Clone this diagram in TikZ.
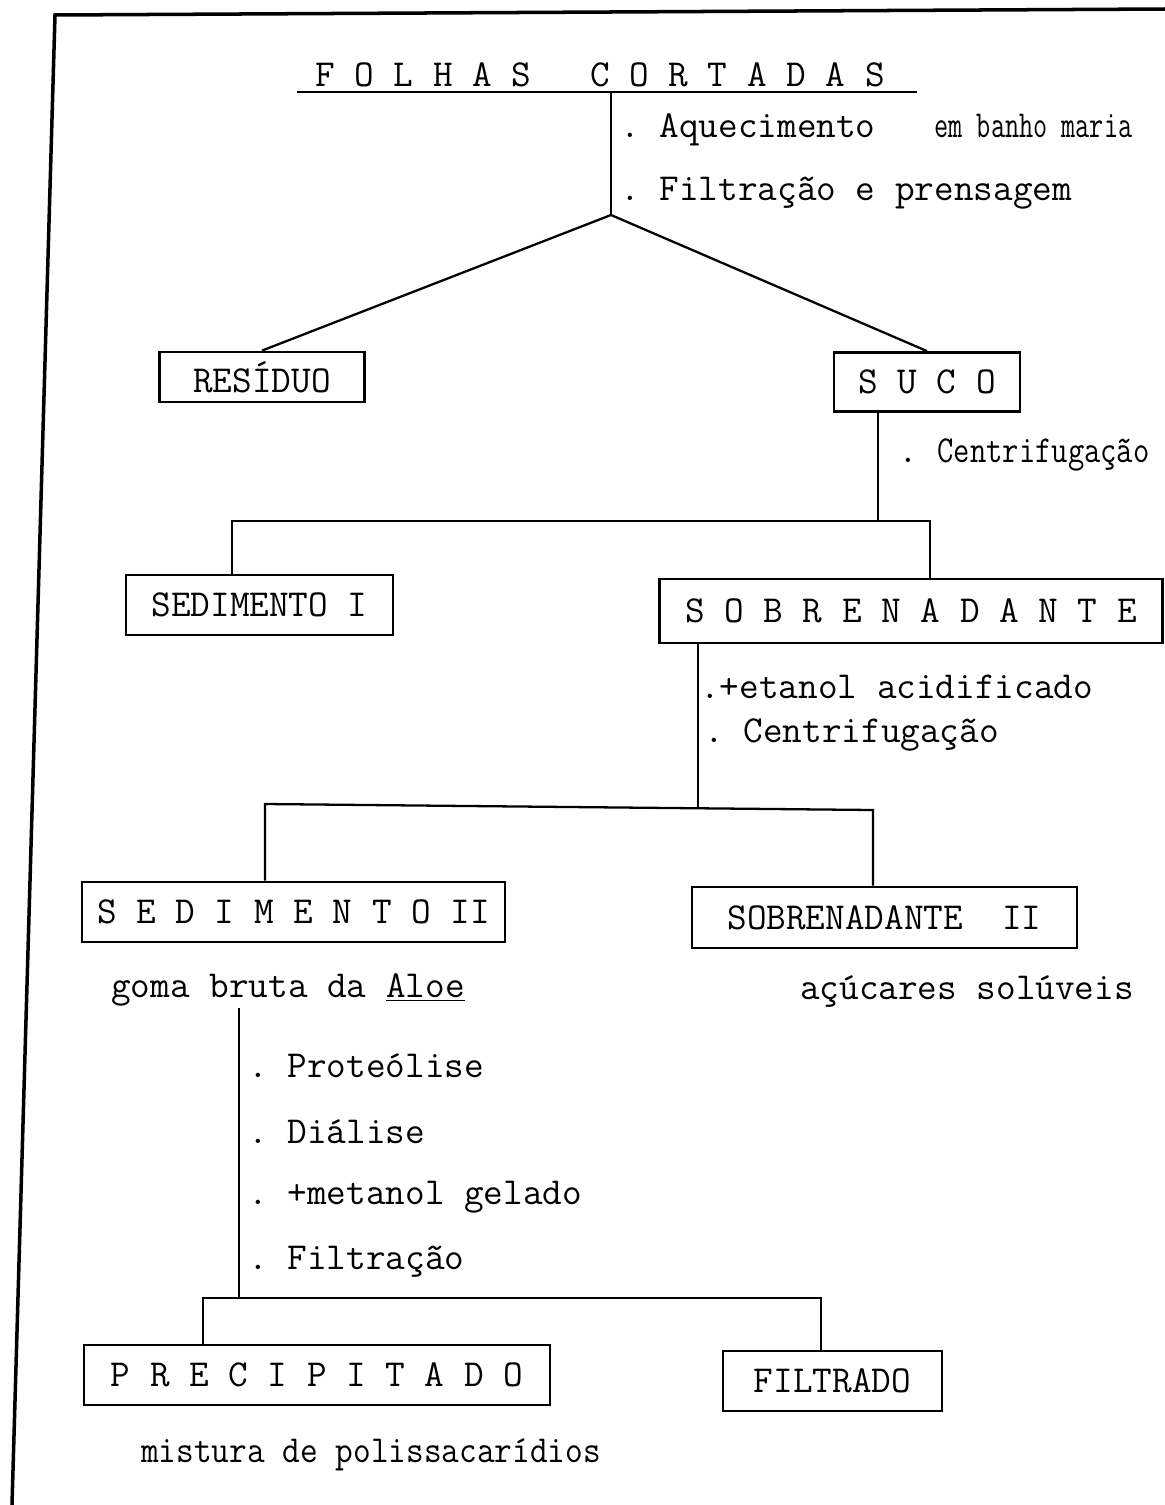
\documentclass[tikz,border=0pt]{standalone}
\usepackage{fontspec}
\usepackage{graphicx}
\usepackage{tikz}
\usetikzlibrary{arrows,positioning}
\newcommand{\maquina}{\ttfamily\fontsize{21.7}{25}\selectfont}
\tikzset{
    %Define standard line style
    linha/.style={
           draw=black,
           line width=1.3pt},
    %Define style for boxes
    caixa/.style={
           rectangle,
           draw=black, line width=1.6pt,
           minimum height=1.2cm,
           inner sep=0pt,
           font=\maquina,
           text centered},
    %Define style for the steps
    passo/.style={
           anchor=west,
           inner sep=0pt,
           font=\maquina},
    texto/.style={
           inner sep=0pt,
           font=\maquina,
           text centered}
}

\begin{document}
\begin{tikzpicture}[x=0.02cm,y=-0.02cm]
\useasboundingbox (0,0) rectangle (1165,1505);
% frame
\draw[line width=2pt] (12,1505) -- (55,15) -- (1165,9);
% title
\node[texto](folhas) at (600,75){F O L H A S~~~C O R T A D A S};
\coordinate (ul1) at (297,92);
\coordinate (ul2) at (917,92);
\draw[linha] (ul1) -- (ul2);
\coordinate (t0) at (611,92);
\coordinate (s1) at (611,215);
\node[passo](aq) at (620,130){.~Aquecimento~~~\scalebox{0.72}[1]{em banho maria}};
\node[passo](fp) at (620,193){.~Filtração e prensagem};
% first level
\node[caixa, minimum width=4.1cm, minimum height=1.0cm](res) at (262,377){RESÍDUO};
\node[caixa, minimum width=3.72cm, minimum height=1.18cm](suco) at (927,382){S U C O};
\path[linha]
	(t0) edge (s1)
	(s1) edge (res.north)
	(s1) edge (suco.north);
\node[passo](cf1) at (898,455){.~\scalebox{0.83}[1]{Centrifugação}};
% second level
\coordinate (s2) at (878,521);
\coordinate (h2a) at (232,521);
\coordinate (h2b) at (930,521);
\node[caixa, minimum width=5.34cm](sed1) at (259.5,605){SEDIMENTO I};
\node[caixa, minimum width=10.06cm, minimum height=1.28cm](sob) at (911,611){S O B R E N A D A N T E};
\draw[linha] (suco.south -| s2) -- (s2);
\draw[linha] (sed1.north -| h2a) -- (h2a) -- (h2b) -- (sob.north -| h2b);
\node[passo](et) at (700,687){.+etanol acidificado};
\node[passo](cf2) at (704,735){.~Centrifugação};
% third level
\coordinate (s3) at (698,807);
\coordinate (h3a) at (265,804);
\coordinate (h3b) at (873,810);
\node[caixa, minimum width=8.46cm](sed2) at (293.5,912){S E D I M E N T O II};
\node[caixa, minimum width=7.7cm, minimum height=1.22cm](sob2) at (884.5,917.5){SOBRENADANTE~~II};
\draw[linha] (sob.south -| s3) -- (s3);
\draw[linha] (sed2.north -| h3a) -- (h3a) -- (h3b) -- (sob2.north -| h3b);
\node[texto](goma) at (288,990){goma bruta da \underline{Aloe}};
\node[texto](acu) at (967,992){açúcares solúveis};
% fourth level
\coordinate (t4) at (239,1008);
\coordinate (s4) at (239,1298);
\node[passo](p1) at (248,1066){.~Proteólise};
\node[passo](p2) at (248,1132){.~Diálise};
\node[passo](p3) at (248,1197){.~+metanol gelado};
\node[passo](p4) at (248,1262){.~Filtração};
\coordinate (h4a) at (203,1298);
\coordinate (h4b) at (821,1298);
\node[caixa, minimum width=9.32cm](prec) at (317,1375){P R E C I P I T A D O};
\node[caixa, minimum width=4.38cm](filt) at (832.5,1381){FILTRADO};
\draw[linha] (t4) -- (s4);
\draw[linha] (prec.north -| h4a) -- (h4a) -- (h4b) -- (filt.north -| h4b);
\node[texto](mist) at (371,1455){\scalebox{0.9}[1]{mistura de polissacarídios}};
\end{tikzpicture}
\end{document}
